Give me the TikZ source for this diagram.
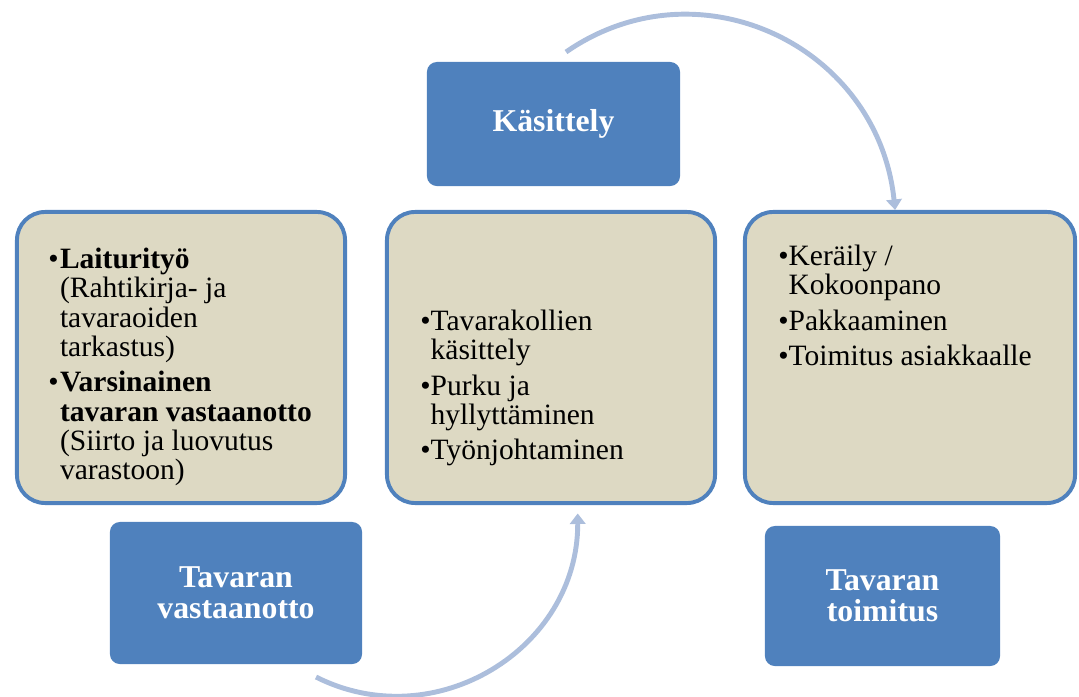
\documentclass[tikz,border=0pt]{standalone}
\usepackage{fontspec}
\setmainfont{Liberation Serif}
\usetikzlibrary{
  arrows.meta,
  positioning
}
\definecolor{framecolor}{RGB}{79, 129, 189}
\definecolor{phasecolor}{RGB}{79, 129, 189}
\definecolor{listfill}{RGB}{221, 217, 195}
\definecolor{cyclecolor}{RGB}{172, 190, 220}
\tikzset{
listblock/.style={
  draw=framecolor,
  line width=2.8pt,
  fill=listfill,
  rounded corners=20pt,
  minimum width=8.2cm,
  minimum height=7.275cm
},
phaseblock/.style={
  fill=phasecolor,
  rounded corners=7pt,
  inner sep=0pt,
  text=white,
  align=center,
  font=\fontsize{22.6}{22}\selectfont\bfseries
},
listtext/.style={
  anchor=north west,
  inner sep=0pt,
  align=left,
  font=\fontsize{21}{20.9}\selectfont
},
cyclearrow/.style={
  -{Triangle[length=7.5pt,width=11pt]},
  line width=3.5pt,
  draw=cyclecolor
}
}

\begin{document}
\begin{tikzpicture}[x=0.025cm, y=-0.025cm]
  \useasboundingbox (0,0) rectangle (1079,697);

  % list boxes
  \node[listblock] (vastaanottoLista) at (181,357.5) {};
  \node[listblock] (kasittelyLista) at (551,357.5) {};
  \node[listblock, minimum width=8.25cm] (toimitusLista) at (910,357.5) {};

  % phase boxes
  \node[phaseblock, minimum width=6.325cm, minimum height=3.1cm] (kasittely) at (553.5,124) {K\"{a}sittely};
  \node[phaseblock, minimum width=6.3cm, minimum height=3.55cm] (vastaanotto) at (236,593) {Tavaran\\vastaanotto};
  \node[phaseblock, minimum width=5.875cm, minimum height=3.5cm] (toimitus) at (882.5,596) {Tavaran\\toimitus};

  % list texts
  \node[listtext] (vastaanottoTeksti) at (48,247.5) {%
    \begin{tabular}{@{}l@{\hspace{1pt}}l@{}}
      \textbullet & \textbf{Laiturity\"{o}}\\
      & (Rahtikirja- ja\\
      & tavaraoiden\\
      & tarkastus)\\[4.2pt]
      \textbullet & \textbf{Varsinainen}\\
      & \textbf{tavaran vastaanotto}\\
      & (Siirto ja luovutus\\
      & varastoon)
    \end{tabular}};
  \node[listtext] (kasittelyTeksti) at (420,309.5) {%
    \begin{tabular}{@{}l@{}l@{}}
      \textbullet & Tavarakollien\\
      & k\"{a}sittely\\[4.2pt]
      \textbullet & Purku ja\\
      & hyllytt\"{a}minen\\[4.2pt]
      \textbullet & Ty\"{o}njohtaminen
    \end{tabular}};
  \node[listtext] (toimitusTeksti) at (778,244.5) {%
    \begin{tabular}{@{}l@{}l@{}}
      \textbullet & Ker\"{a}ily /\\
      & Kokoonpano\\[4.2pt]
      \textbullet & Pakkaaminen\\[4.2pt]
      \textbullet & Toimitus asiakkaalle
    \end{tabular}};

  % cycle arrows
  \coordinate (kaariAlku1) at (566,52);
  \coordinate (kaariAlku2) at (316,677);
  \draw[cyclearrow] (kaariAlku1) .. controls (699,-40) and (878,46) .. ([xshift=-10.6pt]toimitusLista.north);
  \draw[cyclearrow] (kaariAlku2) .. controls (435,737) and (578,649) .. ([xshift=19pt, yshift=-6pt]kasittelyLista.south);
\end{tikzpicture}
\end{document}
